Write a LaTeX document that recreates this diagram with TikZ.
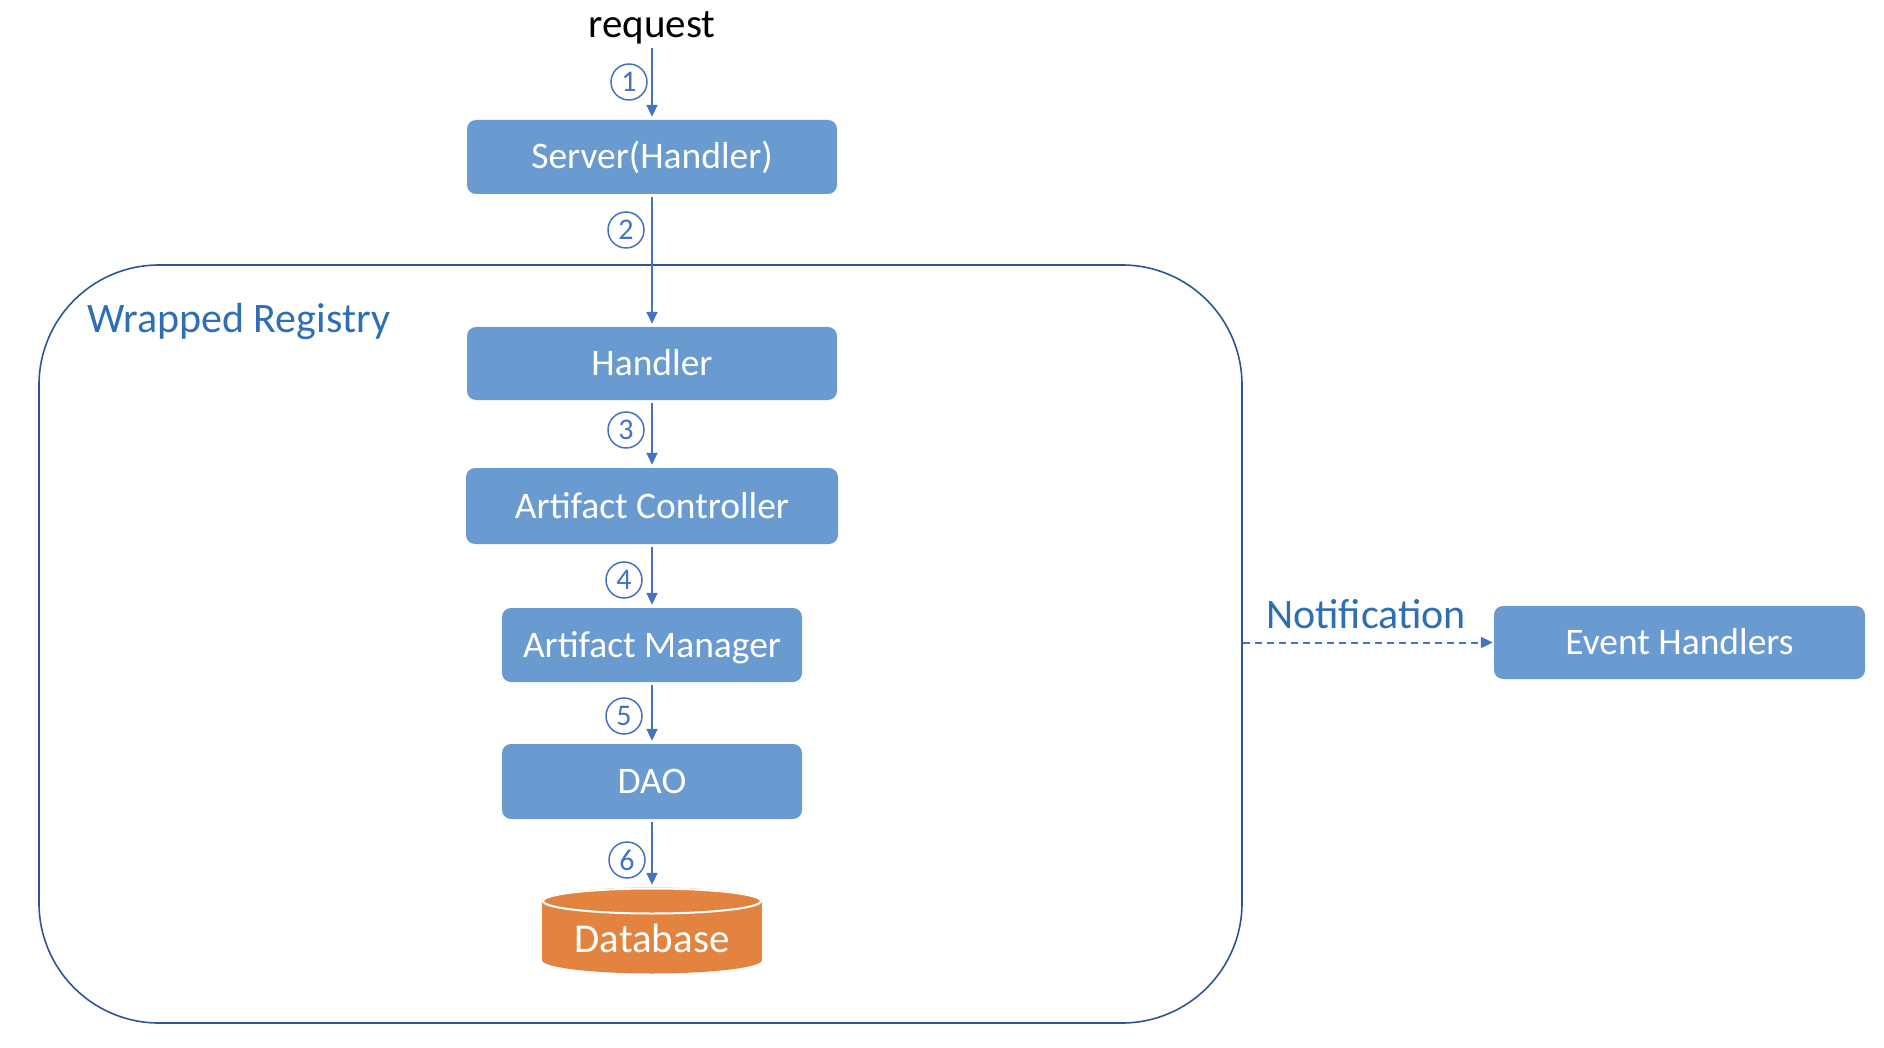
\documentclass[tikz,border=0pt]{standalone}
\usepackage{fontspec}
\setmainfont{Carlito}
\usetikzlibrary{arrows.meta}
\definecolor{boxblue}{HTML}{6A9BD0}
\definecolor{arrowblue}{HTML}{4472C4}
\definecolor{frameblue}{HTML}{2F5597}
\definecolor{labelblue}{HTML}{2E6EB5}
\definecolor{dborange}{HTML}{E2843F}
\begin{document}
\begin{tikzpicture}[x=1pt, y=-1pt,
    box/.style={fill=boxblue, rounded corners=9pt, text=white, inner sep=0pt,
        font=\fontsize{37.5}{44}\selectfont, text height=30pt, text depth=6pt},
    num/.style={shape=circle, draw=arrowblue, line width=1.5pt, text=arrowblue,
        minimum size=36pt, inner sep=0pt, font=\fontsize{30}{34}\selectfont},
    flow/.style={draw=arrowblue, line width=1.7pt, shorten <=3pt, shorten >=3pt,
        -{Triangle[length=12pt,width=11pt]}},
    lbl/.style={text=labelblue, inner sep=0pt, anchor=base west,
        font=\fontsize{42}{48}\selectfont}]
    \useasboundingbox (0,0) rectangle (1884,1048);

    \node[draw=frameblue, line width=1.6pt, rounded corners=120pt, inner sep=0pt,
        minimum width=1203pt, minimum height=758pt] (reg) at (640.5,644) {};
    \node[lbl] (regname) at (87,333) {Wrapped Registry};

    \node[anchor=base, inner sep=0pt, font=\fontsize{41}{48}\selectfont] (req) at (652,38) {request};
    \node[box, minimum width=370pt, minimum height=74pt] (srv) at (652,157) {Server(Handler)};
    \node[box, minimum width=370pt, minimum height=73pt] (hdl) at (652,363.5) {Handler};
    \node[box, minimum width=372pt, minimum height=76pt] (ctl) at (652,506) {Artifact Controller};
    \node[box, minimum width=300pt, minimum height=74pt] (mgr) at (652,645) {Artifact Manager};
    \node[box, minimum width=300pt, minimum height=75pt] (dao) at (652,781.5) {DAO};

    % database drum
    \fill[dborange] (542,901) rectangle (762,960);
    \fill[dborange] (652,960) ellipse (110 and 13.5);
    \fill[dborange] (652,901) ellipse (110 and 13.5);
    \draw[white, line width=2pt] (652,901) ellipse (109 and 12.5);
    \node[inner sep=0pt, minimum width=220pt, minimum height=85pt] (db) at (652,930.5) {};
    \node[text=white, inner sep=0pt, font=\fontsize{41}{48}\selectfont,
        text height=32pt, text depth=6pt] (dbname) at (652,939.5) {Database};

    \node[box, minimum width=371pt, minimum height=73pt] (evt) at (1679.5,642.5) {Event Handlers};
    \node[lbl] (note) at (1266,628) {Notification};

    \node[num] (n1) at (629,82) {1};
    \node[num] (n2) at (626,230) {2};
    \node[num] (n3) at (626,430) {3};
    \node[num] (n4) at (624,580) {4};
    \node[num] (n5) at (624,716) {5};
    \node[num] (n6) at (627,860) {6};

    \draw[flow] (req.south) -- (srv.north);
    \draw[flow] (srv) -- (hdl);
    \draw[flow] (hdl) -- (ctl);
    \draw[flow] (ctl) -- (mgr);
    \draw[flow] (mgr) -- (dao);
    \draw[flow] (dao) -- (db);

    \draw[flow, line width=2pt, shorten <=0pt, shorten >=1pt, dash pattern=on 7pt off 5pt] (reg.east |- evt.west) -- (evt.west);
\end{tikzpicture}
\end{document}
